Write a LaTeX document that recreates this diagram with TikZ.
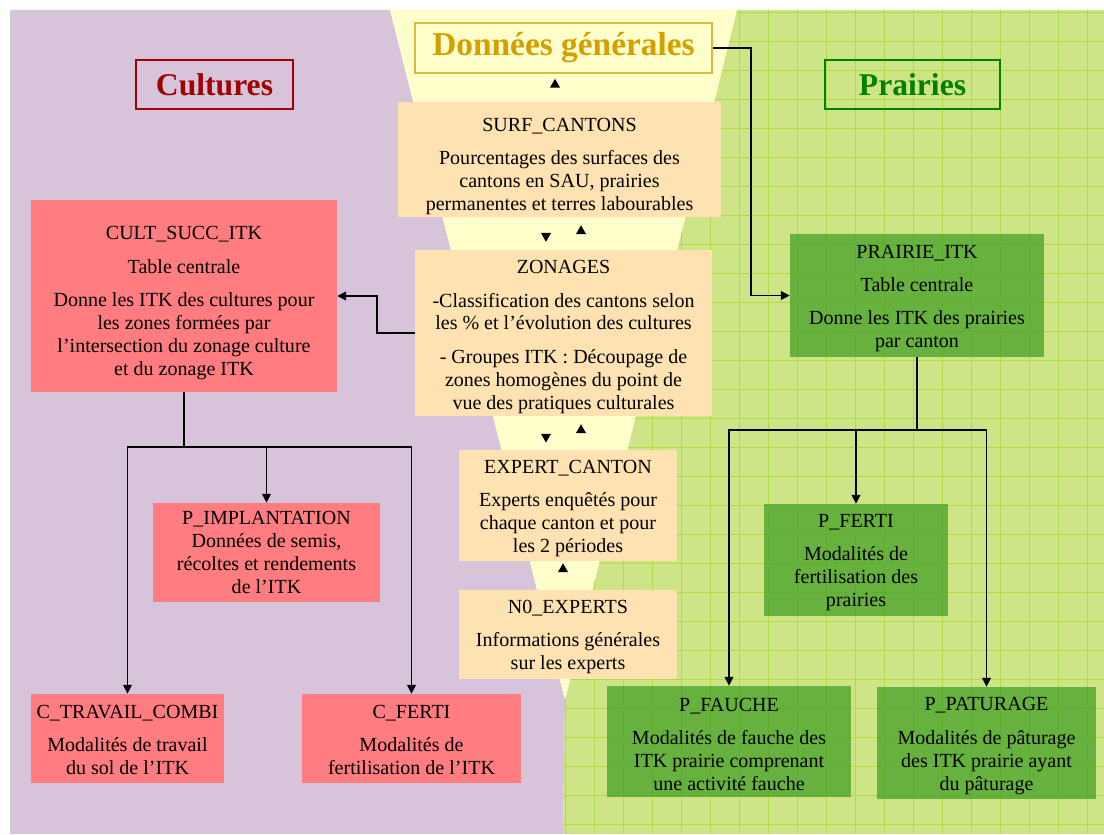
\documentclass[tikz,border=0pt]{standalone}
\usepackage{fontspec}
\setmainfont{Liberation Serif}
\usetikzlibrary{arrows.meta}
\definecolor{lavbg}{RGB}{216,196,218}
\definecolor{funnel}{RGB}{255,255,204}
\definecolor{meadow}{RGB}{205,229,135}
\definecolor{meadowline}{RGB}{178,218,70}
\definecolor{beige}{RGB}{255,226,178}
\definecolor{salmon}{RGB}{255,124,128}
\definecolor{grass}{RGB}{70,160,40}
\definecolor{gold}{RGB}{212,160,0}
\definecolor{goldline}{RGB}{224,184,64}
\definecolor{darkred}{RGB}{160,0,0}
\definecolor{darkgreen}{RGB}{0,128,0}
\newcommand{\tstrut}[1]{\rule{0pt}{#1}}
\begin{document}
\begin{tikzpicture}[x=0.02cm, y=-0.02cm,
    box/.style={rectangle, inner sep=0pt, align=center,
      font=\fontsize{11.4}{13}\selectfont},
    beigebox/.style={box, fill=beige},
    redbox/.style={box, fill=salmon},
    greenbox/.style={box, fill=grass, fill opacity=0.75, text opacity=1},
    heading/.style={rectangle, inner sep=0pt, line width=1pt,
      font=\bfseries\fontsize{18}{20}\selectfont},
    link/.style={line width=0.7pt, -{Triangle[length=5pt,width=5pt]}},
    headonly/.style={line width=0.7pt, -{Triangle[length=5pt,width=5.5pt]}}]
  \useasboundingbox (0,0) rectangle (1104,834);
  % background
  \fill[lavbg] (10,10) -- (390,10) -- (565,700) -- (563,834) -- (10,834) -- cycle;
  \fill[meadow] (737,10) -- (1104,10) -- (1104,834) -- (563,834) -- (565,700) -- cycle;
  \fill[funnel] (390,10) -- (737,10) -- (565,700) -- cycle;
  \begin{scope}
    \clip (737,10) -- (1104,10) -- (1104,834) -- (563,834) -- (565,700) -- cycle;
    \foreach \gx in {536,565,...,1104}
      \draw[meadowline, line width=0.45pt] (\gx,10) -- (\gx,834);
    \foreach \gy in {12,41,...,834}
      \draw[meadowline, line width=0.45pt] (537,\gy) -- (1104,\gy);
  \end{scope}

  % headings
  \node[heading, draw=goldline, fill=funnel, text=gold, font=\bfseries\fontsize{19}{21}\selectfont,
    minimum width=5.94cm, minimum height=1cm] (donnees) at (563.5,48) {Données générales};
  \node[heading, draw=darkred, text=darkred,
    minimum width=3.14cm, minimum height=0.98cm] (cultures) at (214.5,84.5) {Cultures};
  \node[heading, draw=darkgreen, text=darkgreen,
    minimum width=3.5cm, minimum height=0.98cm] (prairies) at (912.5,84.5) {Prairies};

  % central column
  \node[beigebox, minimum width=6.46cm, minimum height=2.3cm] (surf) at (559.5,159.5)
    {\tstrut{15.5pt}SURF\_CANTONS\\[6pt] Pourcentages des surfaces des\\ cantons en SAU, prairies\\ permanentes et terres labourables};
  \node[beigebox, minimum width=5.94cm, minimum height=3.32cm] (zonages) at (563.5,333)
    {\tstrut{12pt}ZONAGES\\[6pt] -Classification des cantons selon\\ les \% et l’évolution des cultures\\[6pt]
     - Groupes ITK : Découpage de\\ zones homogènes du point de\\ vue des pratiques culturales};
  \node[beigebox, minimum width=4.36cm, minimum height=2.22cm] (expert) at (568,505.5)
    {\tstrut{11pt}EXPERT\_CANTON\\[6pt] Experts enquêtés pour\\ chaque canton et pour\\ les 2 périodes};
  \node[beigebox, minimum width=4.36cm, minimum height=1.78cm] (nzero) at (568,634.5)
    {\tstrut{10pt}N0\_EXPERTS\\[6pt] Informations générales\\ sur les experts};

  % cultures
  \node[redbox, minimum width=6.12cm, minimum height=3.84cm] (cultsucc) at (184,296)
    {\tstrut{15.5pt}CULT\_SUCC\_ITK\\[6pt] Table centrale\\[6pt] Donne les ITK des cultures pour\\ les zones formées par\\
     l’intersection du zonage culture\\ et du zonage ITK};
  \node[redbox, minimum width=4.54cm, minimum height=1.98cm] (pimpl) at (266.5,552.5)
    {P\_IMPLANTATION\\ Données de semis,\\ récoltes et rendements\\ de l’ITK};
  \node[redbox, minimum width=3.86cm, minimum height=1.78cm] (ctravail) at (127.5,738.5)
    {\tstrut{9pt}C\_TRAVAIL\_COMBI\\[6pt] Modalités de travail\\ du sol de l’ITK};
  \node[redbox, minimum width=4.38cm, minimum height=1.78cm] (cferti) at (411.5,738.5)
    {\tstrut{9pt}C\_FERTI\\[6pt] Modalités de\\ fertilisation de l’ITK};

  % prairies
  \node[greenbox, minimum width=5.08cm, minimum height=2.46cm] (prairieitk) at (917,295.5)
    {\tstrut{11pt}PRAIRIE\_ITK\\[6pt] Table centrale\\[6pt] Donne les ITK des prairies\\ par canton};
  \node[greenbox, minimum width=3.68cm, minimum height=2.24cm] (pferti) at (856,560)
    {\tstrut{10pt}P\_FERTI\\[6pt] Modalités de\\ fertilisation des\\ prairies};
  \node[greenbox, minimum width=4.88cm, minimum height=2.22cm] (pfauche) at (729,741.5)
    {\tstrut{11pt}P\_FAUCHE\\[6pt] Modalités de fauche des\\ ITK prairie comprenant\\ une activité fauche};
  \node[greenbox, minimum width=4.38cm, minimum height=2.24cm] (ppaturage) at (986.5,743)
    {\tstrut{11pt}P\_PATURAGE\\[6pt] Modalités de pâturage\\ des ITK prairie ayant\\ du pâturage};

  % links
  \draw[link] (zonages.west) -- (377,333) |- (cultsucc.east);
  \draw[link] (donnees.east) -- (751,48) |- (prairieitk.west);
  \coordinate (csplit) at (184,447);
  \coordinate (psplit) at (917,430);
  \draw[line width=0.7pt] (cultsucc.south) -- (csplit);
  \draw[link] (csplit) -| (ctravail.north);
  \draw[link] (csplit) -| (pimpl.north);
  \draw[link] (csplit) -| (cferti.north);
  \draw[line width=0.7pt] (prairieitk.south) -- (psplit);
  \draw[link] (psplit) -| (pfauche.north);
  \draw[link] (psplit) -| (pferti.north);
  \draw[link] (psplit) -| (ppaturage.north);

  % funnel arrows
  \coordinate (downcol) at (546,0);
  \coordinate (upcol) at (581,0);
  \coordinate (topcol) at (555,0);
  \coordinate (lowcol) at (563,0);
  \draw[headonly, shorten <=8.8pt, shorten >=2.8pt] (surf.north -| topcol) -- (donnees.south -| topcol);
  \draw[headonly, shorten <=9.4pt, shorten >=4.5pt] (surf.south -| downcol) -- (zonages.north -| downcol);
  \draw[headonly, shorten <=9.4pt, shorten >=4.5pt] (zonages.north -| upcol) -- (surf.south -| upcol);
  \draw[headonly, shorten <=10.5pt, shorten >=4pt] (zonages.south -| downcol) -- (expert.north -| downcol);
  \draw[headonly, shorten <=10pt, shorten >=4.5pt] (expert.north -| upcol) -- (zonages.south -| upcol);
  \draw[headonly, shorten <=10.5pt, shorten >=1.1pt] (nzero.north -| lowcol) -- (expert.south -| lowcol);
\end{tikzpicture}
\end{document}
